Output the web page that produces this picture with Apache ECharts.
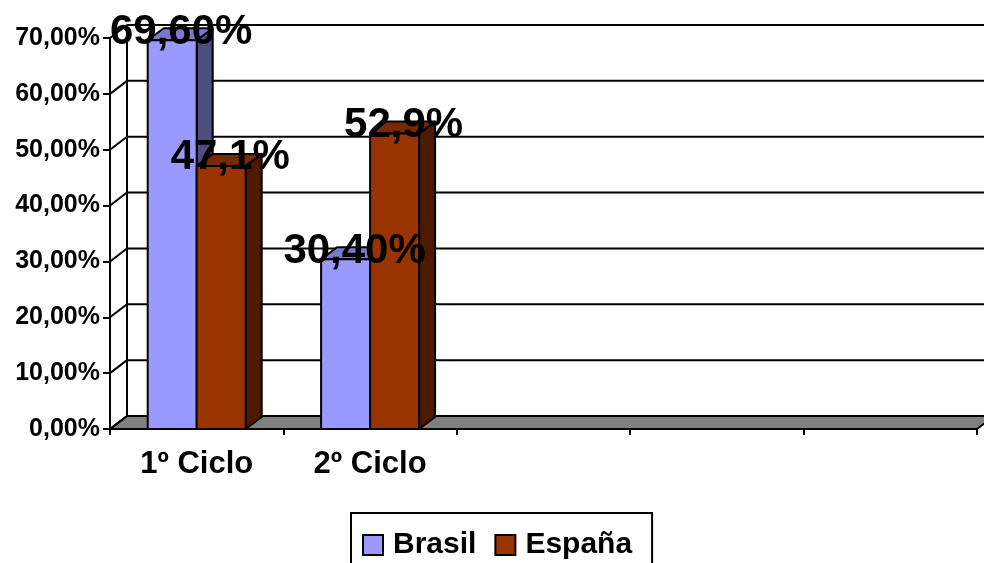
<!DOCTYPE html>
<html>
<head>
<meta charset="utf-8">
<script src="https://cdn.jsdelivr.net/npm/echarts@6/dist/echarts.min.js"></script>
<style>
  html, body { margin: 0; padding: 0; background: #fff; }
  #chart { width: 984px; height: 563px; }
</style>
</head>
<body>
<div id="chart"></div>
<script>
// Share of students per cycle, Brasil vs España
const categories = ['1º Ciclo', '2º Ciclo', '', '', ''];
const brasil = [69.6, 30.4];
const espana = [47.1, 52.9];
const yTicks = [0, 10, 20, 30, 40, 50, 60, 70];

const FONT = "'Liberation Sans', Arial, sans-serif";
const WALL_DX = 17, WALL_DY = -13;   // depth offset of the back wall / floor
const BAR_DX = 16, BAR_DY = -12;     // depth offset of each column
const BAR_W = 49;
const LABEL_SHIFT = 4;               // value labels sit slightly below the back top edge
const LINE = '#000';

function pct(v, d) { return v.toFixed(d).replace('.', ',') + '%'; }

// Back wall gridlines, left wall diagonals and the grey floor
function frameItem(params, api) {
  const cs = params.coordSys;
  const y = api.coord([0, api.value(1)])[1];
  const left = cs.x;
  const right = cs.x + cs.width;
  const lineStyle = { stroke: LINE, lineWidth: 2 };
  const children = [];
  if (params.dataIndex === 0) {
    children.push({
      type: 'polygon',
      shape: { points: [[left, y], [right, y], [right + WALL_DX, y + WALL_DY], [left + WALL_DX, y + WALL_DY]] },
      style: { fill: '#808080', stroke: LINE, lineWidth: 2, lineJoin: 'round' }
    });
    const yTop = api.coord([0, yTicks[yTicks.length - 1]])[1];
    children.push({
      type: 'line',
      shape: { x1: left + WALL_DX, y1: y + WALL_DY, x2: left + WALL_DX, y2: yTop + WALL_DY },
      style: lineStyle
    });
  } else {
    children.push({
      type: 'line',
      shape: { x1: left + WALL_DX, y1: y + WALL_DY, x2: right + WALL_DX, y2: y + WALL_DY },
      style: lineStyle
    });
  }
  children.push({
    type: 'line',
    shape: { x1: left, y1: y, x2: left + WALL_DX, y2: y + WALL_DY },
    style: lineStyle
  });
  return { type: 'group', children: children };
}

// Pseudo-3D column: front face, right side, top and value label
function barRenderer(side, colors, decimals) {
  return function (params, api) {
    const idx = api.value(0), v = api.value(1);
    const top = api.coord([idx, v]);
    const base = api.coord([idx, 0]);
    const x0 = side < 0 ? top[0] - BAR_W : top[0];
    const x1 = x0 + BAR_W;
    const yT = top[1], yB = base[1];
    const st = function (fill) { return { fill: fill, stroke: LINE, lineWidth: 2, lineJoin: 'round' }; };
    return {
      type: 'group',
      children: [
        { type: 'polygon', shape: { points: [[x1, yB], [x1, yT], [x1 + BAR_DX, yT + BAR_DY], [x1 + BAR_DX, yB + BAR_DY]] }, style: st(colors.side) },
        { type: 'polygon', shape: { points: [[x0, yT], [x1, yT], [x1 + BAR_DX, yT + BAR_DY], [x0 + BAR_DX, yT + BAR_DY]] }, style: st(colors.top) },
        { type: 'rect', shape: { x: x0, y: yT, width: BAR_W, height: yB - yT }, style: st(colors.front) },
        {
          type: 'text', z2: 100,
          x: (x0 + x1) / 2 + BAR_DX / 2 + 1, y: yT + BAR_DY + LABEL_SHIFT,
          style: { text: pct(v, decimals), fill: '#000', font: 'bold 42px ' + FONT, align: 'center', verticalAlign: 'middle' }
        }
      ]
    };
  };
}

const chart = echarts.init(document.getElementById('chart'), null, { renderer: 'canvas' });
chart.setOption({
  animation: false,
  backgroundColor: '#fff',
  grid: { left: 110, right: 7, top: 38, bottom: 134 },
  legend: {
    data: ['Brasil', 'España'],
    left: 351, top: 513,
    orient: 'horizontal',
    icon: 'rect',
    itemWidth: 20, itemHeight: 20,
    itemGap: 18,
    padding: [17, 20, 17, 11],
    borderColor: '#000', borderWidth: 2,
    itemStyle: { borderColor: '#000', borderWidth: 2 },
    textStyle: { fontFamily: FONT, fontWeight: 'bold', fontSize: 30, color: '#000', padding: [0, 0, 0, 5] }
  },
  xAxis: {
    type: 'category',
    data: categories,
    boundaryGap: true,
    axisLine: { show: true, lineStyle: { color: '#000', width: 2 } },
    axisTick: { show: true, length: 6, alignWithLabel: false, interval: 0, lineStyle: { color: '#000', width: 2 } },
    axisLabel: { fontFamily: FONT, fontWeight: 'bold', fontSize: 31, color: '#000', margin: 20, interval: 0 },
    splitLine: { show: false }
  },
  yAxis: {
    type: 'value',
    min: 0, max: 70, interval: 10,
    axisLine: { show: true, lineStyle: { color: '#000', width: 2 } },
    axisTick: { show: true, length: 7, lineStyle: { color: '#000', width: 2 } },
    axisLabel: {
      fontFamily: FONT, fontWeight: 'bold', fontSize: 25, color: '#000', margin: 10,
      formatter: function (v) { return pct(v, 2); }
    },
    splitLine: { show: false }
  },
  series: [
    {
      type: 'custom', z: 1, silent: true,
      renderItem: frameItem,
      encode: { x: 0, y: 1 },
      data: yTicks.map(function (v) { return [0, v]; }),
      clip: false
    },
    {
      name: 'Brasil', type: 'custom', z: 2,
      itemStyle: { color: '#9999FF', borderColor: '#000', borderWidth: 2 },
      renderItem: barRenderer(-1, { front: '#9999FF', top: '#7A7ACC', side: '#4D4D80' }, 2),
      encode: { x: 0, y: 1 },
      data: brasil.map(function (v, i) { return [i, v]; }),
      clip: false
    },
    {
      name: 'España', type: 'custom', z: 2,
      itemStyle: { color: '#993300', borderColor: '#000', borderWidth: 2 },
      renderItem: barRenderer(1, { front: '#993300', top: '#7A2900', side: '#4D1A00' }, 1),
      encode: { x: 0, y: 1 },
      data: espana.map(function (v, i) { return [i, v]; }),
      clip: false
    }
  ]
});
</script>
</body>
</html>
